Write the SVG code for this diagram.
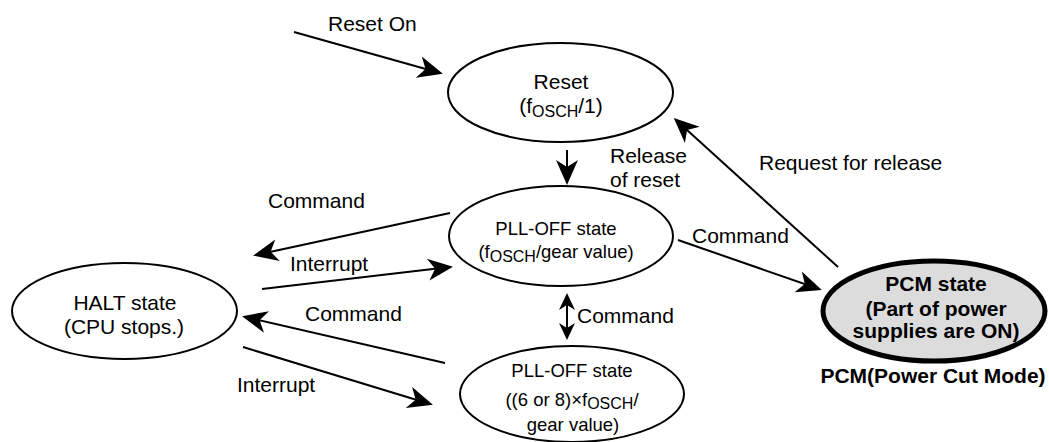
<svg xmlns="http://www.w3.org/2000/svg" width="1049" height="442" viewBox="0 0 1049 442">
<style>
text{font-family:"Liberation Sans",Arial,sans-serif;fill:#000}
.lbl{font-size:21px}
.big{font-size:21px}
.med{font-size:18.5px}
.sub{font-size:16px}
.bold{font-size:21px;font-weight:bold}
.node{fill:#fff;stroke:#000;stroke-width:2}
.pcm{fill:#dcdcdc;stroke:#000;stroke-width:5}
.edge{fill:none;stroke:#000;stroke-width:2;marker-end:url(#ah)}
.dbl{fill:none;stroke:#000;stroke-width:2;marker-start:url(#ah2);marker-end:url(#ah2)}
</style>
<defs>
<marker id="ah" markerUnits="userSpaceOnUse" viewBox="-28 -14 30 28" markerWidth="30" markerHeight="28" refX="-3" refY="0" orient="auto-start-reverse">
<path d="M0,0 L-25,-11 L-18,0 L-25,11 Z" fill="#000"/>
</marker>
<marker id="ah2" markerUnits="userSpaceOnUse" viewBox="-20 -10 22 20" markerWidth="22" markerHeight="20" refX="-3" refY="0" orient="auto-start-reverse">
<path d="M0,0 L-17,-8 L-12,0 L-17,8 Z" fill="#000"/>
</marker>
</defs>
<rect width="1049" height="442" fill="#fff"/>
<g id="connectors">
<line class="edge" x1="294" y1="32" x2="440" y2="73"/>
<line class="edge" x1="567" y1="150" x2="567" y2="182"/>
<line class="edge" x1="838" y1="267" x2="676" y2="120"/>
<line class="edge" x1="678" y1="240" x2="819" y2="289"/>
<line class="edge" x1="450" y1="213" x2="256" y2="255"/>
<line class="edge" x1="262" y1="289" x2="450" y2="267"/>
<line class="edge" x1="445" y1="363" x2="245" y2="317"/>
<line class="edge" x1="243" y1="347" x2="430" y2="404"/>
<line class="dbl" x1="567" y1="296" x2="567" y2="337"/>
</g>
<g id="labels">
<text class="lbl" x="328" y="31">Reset On</text>
<text class="lbl" x="610" y="163">Release</text>
<text class="lbl" x="610" y="187">of reset</text>
<text class="lbl" x="759" y="170">Request for release</text>
<text class="lbl" x="692" y="243">Command</text>
<text class="lbl" x="268" y="208">Command</text>
<text class="lbl" x="290" y="271">Interrupt</text>
<text class="lbl" x="305" y="321">Command</text>
<text class="lbl" x="237" y="392">Interrupt</text>
<text class="lbl" x="577" y="323">Command</text>
</g>
<g id="reset">
<ellipse class="node" cx="560.5" cy="92.5" rx="112.5" ry="49.5"/>
<text class="big" x="561" y="89" text-anchor="middle">Reset</text>
<text class="big" x="561" y="113" text-anchor="middle">(f<tspan class="sub" dy="4">OSCH</tspan><tspan dy="-4">/1)</tspan></text>
</g>
<g id="pll-off-1">
<ellipse class="node" cx="561" cy="236" rx="112" ry="50"/>
<text class="med" x="556" y="235" text-anchor="middle">PLL-OFF state</text>
<text class="med" x="556" y="258" text-anchor="middle">(f<tspan class="sub" dy="4">OSCH</tspan><tspan dy="-4">/gear value)</tspan></text>
</g>
<g id="pll-off-2">
<ellipse class="node" cx="572" cy="394" rx="112" ry="48"/>
<text class="med" x="572" y="377" text-anchor="middle">PLL-OFF state</text>
<text class="med" x="572" y="406" text-anchor="middle">((6 or 8)×f<tspan class="sub" dy="3">OSCH</tspan><tspan dy="-3">/</tspan></text>
<text class="med" x="573" y="431" text-anchor="middle">gear value)</text>
</g>
<g id="halt">
<ellipse class="node" cx="124.5" cy="311" rx="112.5" ry="48"/>
<text class="big" x="125" y="310" text-anchor="middle">HALT state</text>
<text class="big" x="124" y="334" text-anchor="middle">(CPU stops.)</text>
</g>
<g id="pcm">
<ellipse class="pcm" cx="934" cy="311" rx="111" ry="50"/>
<text class="bold" x="936" y="291" text-anchor="middle">PCM state</text>
<text class="bold" x="936" y="316" text-anchor="middle">(Part of power</text>
<text class="bold" x="936" y="338" text-anchor="middle">supplies are ON)</text>
<text class="bold" x="933" y="383" text-anchor="middle">PCM(Power Cut Mode)</text>
</g>
</svg>
